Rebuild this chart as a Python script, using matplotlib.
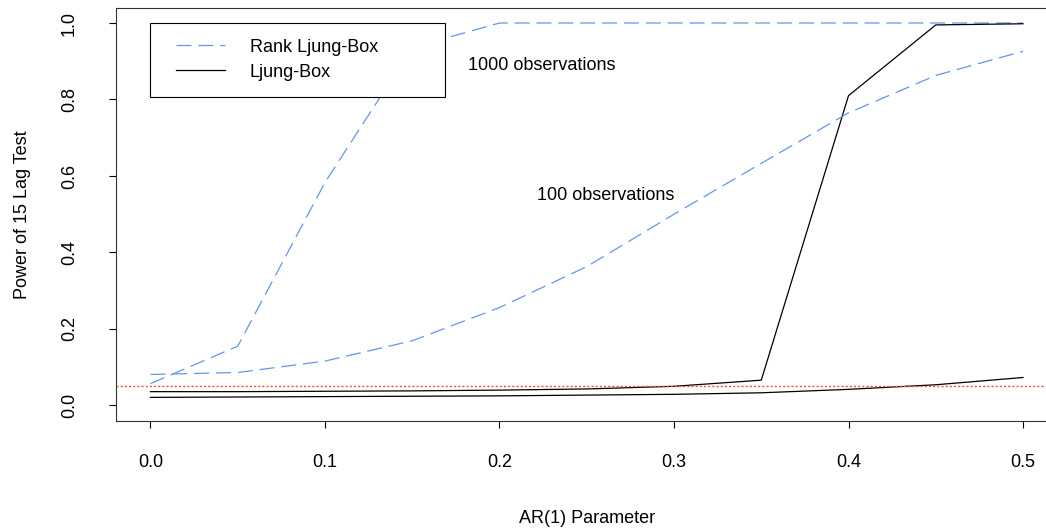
import matplotlib
matplotlib.use("Agg")
import matplotlib.pyplot as plt
from matplotlib.patches import Rectangle

plt.rcParams['font.family'] = ['Liberation Sans', 'DejaVu Sans']
plt.rcParams['font.size'] = 13

# AR(1) parameter values
ar = [0.0, 0.05, 0.1, 0.15, 0.2, 0.25, 0.3, 0.35, 0.4, 0.45, 0.5]

# power, 1000 observations
rank_lb_1000 = [0.057, 0.155, 0.583, 0.936, 1.0, 1.0, 1.0, 1.0, 1.0, 1.0, 1.0]
lb_1000 = [0.036, 0.036, 0.037, 0.038, 0.040, 0.043, 0.050, 0.066, 0.81, 0.995, 0.998]

# power, 100 observations
rank_lb_100 = [0.081, 0.086, 0.116, 0.169, 0.256, 0.363, 0.500, 0.633, 0.765, 0.863, 0.926]
lb_100 = [0.021, 0.022, 0.023, 0.024, 0.025, 0.027, 0.029, 0.033, 0.042, 0.054, 0.073]

alpha_level = 0.05
blue = '#6495ED'

fig = plt.figure(figsize=(10.46, 5.28), dpi=100)
ax = fig.add_axes([0.1105, 0.2032, 0.9009, 0.7822])

dash = (12, 5.5)
ax.plot(ar, rank_lb_1000, color=blue, lw=0.9, dashes=dash)
ax.plot(ar, lb_1000, color='black', lw=0.9)
ax.plot(ar, rank_lb_100, color=blue, lw=0.9, dashes=dash)
ax.plot(ar, lb_100, color='black', lw=0.9)
ax.axhline(alpha_level, color='#ff4444', lw=1.0, dashes=(1.5, 1.5))

ax.set_xlim(-0.02, 0.52)
ax.set_ylim(-0.04, 1.04)
ax.set_xticks([0.0, 0.1, 0.2, 0.3, 0.4, 0.5])
ax.set_yticks([0.0, 0.2, 0.4, 0.6, 0.8, 1.0])
ax.set_xticklabels(['0.0', '0.1', '0.2', '0.3', '0.4', '0.5'])
ax.set_yticklabels(['0.0', '0.2', '0.4', '0.6', '0.8', '1.0'])
plt.setp(ax.get_yticklabels(), rotation=90, va='center')
ax.tick_params(direction='out', length=5, width=0.8, pad=19, axis='x')
ax.tick_params(direction='out', length=5, width=0.8, pad=22, axis='y')
for s in ax.spines.values():
    s.set_linewidth(0.8)
    s.set_color('#333333')

ax.set_xlabel('AR(1) Parameter', labelpad=28)
ax.set_ylabel('Power of 15 Lag Test', labelpad=21.5)

ax.text(0.224, 0.889, '1000 observations', ha='center', va='center')
ax.text(0.261, 0.55, '100 observations', ha='center', va='center')

# legend drawn like R's legend(0, 1, ...)
ax.add_patch(Rectangle((0.0, 0.807), 0.169, 0.193, fill=True, facecolor='white',
                       edgecolor='black', lw=0.8, zorder=5))
ax.plot([0.0147, 0.0427], [0.9415, 0.9415], color=blue, lw=0.9, dashes=dash, zorder=6)
ax.plot([0.0147, 0.0427], [0.8765, 0.8765], color='black', lw=0.9, zorder=6)
ax.text(0.057, 0.9244, 'Rank Ljung-Box', ha='left', va='baseline', zorder=6)
ax.text(0.057, 0.859, 'Ljung-Box', ha='left', va='baseline', zorder=6)

fig.savefig('out.png', dpi=100)
